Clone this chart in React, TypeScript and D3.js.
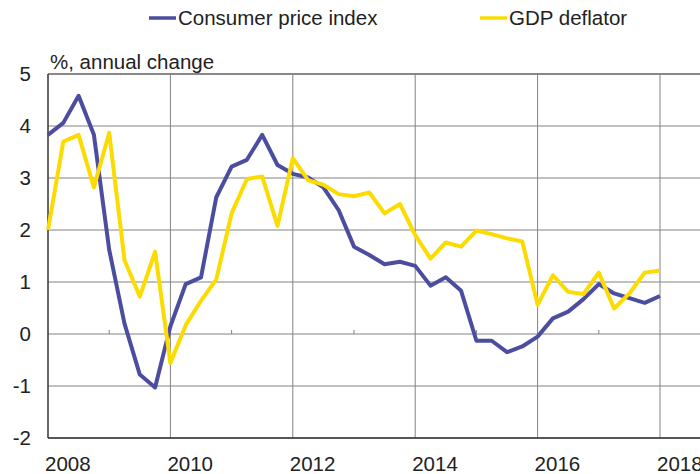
import * as d3 from "d3";
import { useEffect, useRef } from "react";

// quarterly observations, 2008Q1 .. 2018Q1
const startYear = 2008;
const cpi = [
  3.83, 4.06, 4.58, 3.83, 1.62, 0.2, -0.78, -1.03, 0.15, 0.96, 1.09, 2.63,
  3.22, 3.35, 3.83, 3.25, 3.08, 3.01, 2.82, 2.38, 1.68, 1.52, 1.34, 1.39, 1.31,
  0.93, 1.09, 0.83, -0.13, -0.13, -0.35, -0.24, -0.05, 0.3, 0.43, 0.67, 0.96,
  0.78, 0.69, 0.6, 0.73,
];
const gdpDeflator = [
  2.0, 3.7, 3.83, 2.82, 3.87, 1.42, 0.72, 1.58, -0.56, 0.17, 0.64, 1.05, 2.32,
  2.98, 3.03, 2.08, 3.38, 2.96, 2.87, 2.69, 2.65, 2.72, 2.32, 2.5, 1.9, 1.45,
  1.76, 1.68, 1.99, 1.92, 1.84, 1.78, 0.56, 1.13, 0.81, 0.77, 1.18, 0.49, 0.78,
  1.18, 1.22,
];
const yearTicks = [2008, 2010, 2012, 2014, 2016, 2018];
const minorYearTicks = [2009, 2011, 2013, 2015, 2017];
const valueTicks = [-2, -1, 0, 1, 2, 3, 4, 5];
const seriesNames = ["Consumer price index", "GDP deflator"];
const seriesColors = ["#4c4d9f", "#fcdc00"];
const unitLabel = "%, annual change";

function App() {
  const ref = useRef(null);

  useEffect(() => {
    const svg = d3.select(ref.current);
    svg.selectAll("*").remove();

    const font = "Liberation Sans, Arial, sans-serif";
    const fontSize = 20.5;
    const left = 48;
    const top = 74;
    const bottom = 438;
    const right = 712;

    const xScale = d3.scaleLinear().domain([2008, 2018]).range([left, 660]);
    const yScale = d3.scaleLinear().domain([-2, 5]).range([bottom, top]);

    // horizontal grid
    svg
      .append("g")
      .selectAll("line")
      .data(valueTicks)
      .enter()
      .append("line")
      .attr("x1", left)
      .attr("x2", right)
      .attr("y1", (d) => yScale(d))
      .attr("y2", (d) => yScale(d))
      .attr("stroke", (d) => (d === 5 ? "#606060" : "#828282"))
      .attr("stroke-width", (d) => (d === 5 ? 1.5 : 1));

    // vertical grid on even years
    svg
      .append("g")
      .selectAll("line")
      .data(yearTicks.slice(1))
      .enter()
      .append("line")
      .attr("x1", (d) => xScale(d))
      .attr("x2", (d) => xScale(d))
      .attr("y1", top)
      .attr("y2", bottom)
      .attr("stroke", "#828282")
      .attr("stroke-width", 1);

    // small ticks on the zero line for odd years
    svg
      .append("g")
      .selectAll("line")
      .data(minorYearTicks)
      .enter()
      .append("line")
      .attr("x1", (d) => xScale(d))
      .attr("x2", (d) => xScale(d))
      .attr("y1", yScale(0))
      .attr("y2", yScale(0) - 4)
      .attr("stroke", "#828282")
      .attr("stroke-width", 1);

    // axis lines
    svg
      .append("line")
      .attr("x1", left)
      .attr("x2", left)
      .attr("y1", top)
      .attr("y2", bottom)
      .attr("stroke", "#333")
      .attr("stroke-width", 1.5);
    svg
      .append("line")
      .attr("x1", left)
      .attr("x2", right)
      .attr("y1", bottom)
      .attr("y2", bottom)
      .attr("stroke", "#333")
      .attr("stroke-width", 1.5);

    // y tick labels
    svg
      .append("g")
      .selectAll("text")
      .data(valueTicks)
      .enter()
      .append("text")
      .attr("x", 31)
      .attr("y", (d) => yScale(d))
      .attr("dy", "0.35em")
      .attr("text-anchor", "end")
      .attr("font-family", font)
      .attr("font-size", fontSize)
      .attr("fill", "#222")
      .text((d) => d);

    // x tick labels, left aligned at the grid line
    svg
      .append("g")
      .selectAll("text")
      .data(yearTicks)
      .enter()
      .append("text")
      .attr("x", (d) => xScale(d) - 3)
      .attr("y", 471)
      .attr("font-family", font)
      .attr("font-size", fontSize)
      .attr("fill", "#222")
      .text((d) => d);

    // unit label
    svg
      .append("text")
      .attr("x", 50)
      .attr("y", 69)
      .attr("font-family", font)
      .attr("font-size", fontSize)
      .attr("fill", "#222")
      .text(unitLabel);

    // the two lines
    const line = d3
      .line()
      .x((d, i) => xScale(startYear + i / 4))
      .y((d) => yScale(d))
      .curve(d3.curveLinear);

    [cpi, gdpDeflator].forEach((data, k) => {
      svg
        .append("path")
        .datum(data)
        .attr("fill", "none")
        .attr("stroke", seriesColors[k])
        .attr("stroke-width", 4)
        .attr("stroke-linejoin", "round")
        .attr("d", line);
    });

    // legend
    const legendX = [149, 480];
    seriesNames.forEach((name, k) => {
      svg
        .append("line")
        .attr("x1", legendX[k])
        .attr("x2", legendX[k] + 27)
        .attr("y1", 18)
        .attr("y2", 18)
        .attr("stroke", seriesColors[k])
        .attr("stroke-width", 3.5);
      svg
        .append("text")
        .attr("x", legendX[k] + 29)
        .attr("y", 25)
        .attr("font-family", font)
        .attr("font-size", fontSize)
        .attr("fill", "#222")
        .text(name);
    });
  }, []);

  return (
    <svg
      ref={ref}
      width={700}
      height={474}
      style={{ position: "absolute", left: 0, top: 0, background: "#fff" }}
    />
  );
}

export default App;
